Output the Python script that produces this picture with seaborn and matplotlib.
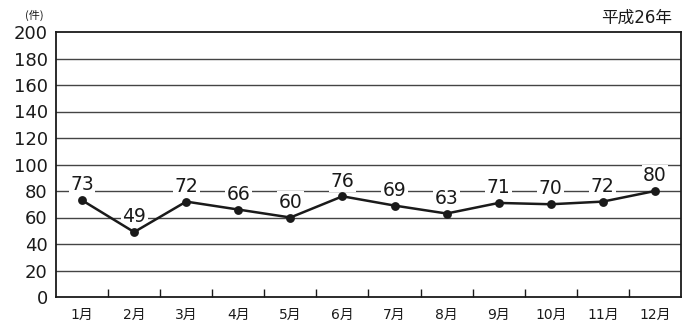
import matplotlib
matplotlib.use("Agg")
import matplotlib.pyplot as plt
from matplotlib.ticker import FixedLocator
import seaborn as sns
import pandas as pd

months = ["1月", "2月", "3月", "4月", "5月", "6月", "7月", "8月", "9月", "10月", "11月", "12月"]
counts = [73, 49, 72, 66, 60, 76, 69, 63, 71, 70, 72, 80]
y_ticks = [0, 20, 40, 60, 80, 100, 120, 140, 160, 180, 200]
title_text = "平成26年"
unit_text = "(件)"

sns.set_theme(style="white")
plt.rcParams['font.family'] = ['DejaVu Sans', 'Noto Sans CJK JP']

df = pd.DataFrame({"month": months, "count": counts})

fig = plt.figure(figsize=(6.92, 3.27), dpi=100)
ax = fig.add_axes([56/692, 30/327, (681-56)/692, (297-32)/327])

for v in y_ticks[1:-1]:
    ax.axhline(v, color="#444444", linewidth=1.0, zorder=1)

sns.pointplot(data=df, x="month", y="count", ax=ax, color="#1a1a1a",
              markers="o", markersize=5, linewidth=1.8, zorder=3)

for i, v in enumerate(counts):
    ax.annotate(str(v), (i, v), xytext=(0, 11), textcoords="offset points",
                ha="center", va="center", fontsize=13.5, color="#1a1a1a",
                bbox=dict(boxstyle="square,pad=0.08", fc="white", ec="none"),
                zorder=2)

ax.set_xlim(-0.5, len(months) - 0.5)
ax.set_ylim(0, 200)
ax.set_yticks(y_ticks)
ax.set_xlabel("")
ax.set_ylabel("")
ax.tick_params(axis="y", labelsize=13, length=0, pad=6, colors="#1a1a1a")
ax.tick_params(axis="x", which="major", labelsize=10, length=0, pad=8, colors="#1a1a1a")
ax.xaxis.set_minor_locator(FixedLocator([i + 0.5 for i in range(len(months) - 1)]))
ax.tick_params(axis="x", which="minor", direction="in", length=6, width=1, color="#1a1a1a", bottom=True)

for s in ax.spines.values():
    s.set_visible(True)
    s.set_color("#1a1a1a")
    s.set_linewidth(1.3)

fig.text(672/692, 1 - 18/327, title_text, ha="right", va="center", fontsize=12, color="#1a1a1a")
fig.text(34/692, 1 - 15/327, unit_text, ha="center", va="center", fontsize=8, color="#1a1a1a",
         family=['Noto Sans CJK JP', 'DejaVu Sans'])

fig.savefig("out.png", dpi=100)
